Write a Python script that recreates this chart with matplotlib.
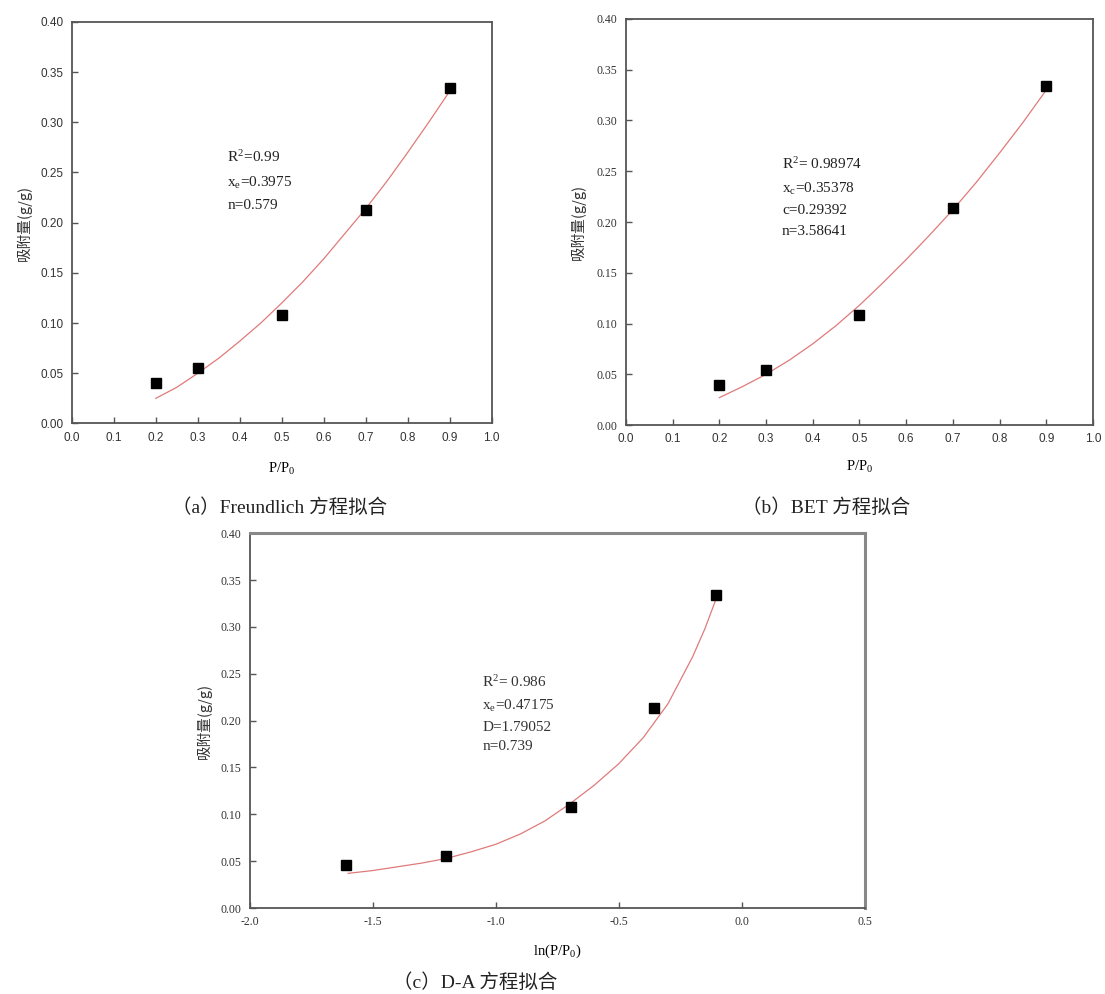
import matplotlib
matplotlib.use("Agg")
import matplotlib.pyplot as plt

# measured points (P/P0 and adsorbed amount, g/g)
p_rel = [0.2, 0.3, 0.5, 0.7, 0.9]
q_a = [0.040, 0.055, 0.108, 0.213, 0.334]
q_b = [0.039, 0.054, 0.108, 0.214, 0.334]
ln_p = [-1.609, -1.204, -0.693, -0.357, -0.105]
q_c = [0.046, 0.055, 0.108, 0.214, 0.334]

# fitted curves
fit_x_ab = [0.20, 0.25, 0.30, 0.35, 0.40, 0.45, 0.50, 0.55, 0.60, 0.65, 0.70, 0.75, 0.80, 0.85, 0.90]
fit_a = [0.025, 0.036, 0.050, 0.065, 0.082, 0.100, 0.120, 0.141, 0.164, 0.189, 0.214, 0.241, 0.270, 0.300, 0.331]
fit_b = [0.027, 0.038, 0.050, 0.064, 0.080, 0.098, 0.118, 0.140, 0.163, 0.187, 0.212, 0.239, 0.268, 0.298, 0.330]
fit_x_c = [-1.60, -1.50, -1.40, -1.30, -1.20, -1.10, -1.00, -0.90, -0.80, -0.70, -0.60, -0.50, -0.40, -0.30, -0.20, -0.15, -0.10]
fit_c = [0.037, 0.040, 0.044, 0.048, 0.053, 0.060, 0.068, 0.079, 0.093, 0.111, 0.131, 0.154, 0.182, 0.218, 0.268, 0.298, 0.333]

SERIF = ["Liberation Serif", "Noto Sans CJK SC"]
SANS = ["Liberation Sans", "DejaVu Sans"]
CJK = ["Noto Sans CJK SC", "Liberation Serif"]
LINE = "#e07a7a"

plt.rcParams["mathtext.fontset"] = "stix"

fig = plt.figure(figsize=(11.05, 9.94), dpi=100)
ax_a = fig.add_axes([0.065, 0.574, 0.380, 0.404])
ax_b = fig.add_axes([0.5665, 0.5724, 0.4226, 0.4085])
ax_c = fig.add_axes([0.226, 0.0865, 0.5566, 0.377])


def style(ax, xlim, ylim, xticks, xfam, yfam):
    ax.set_xlim(*xlim)
    ax.set_ylim(*ylim)
    ax.set_xticks(xticks)
    ax.set_yticks([0.0, 0.05, 0.10, 0.15, 0.20, 0.25, 0.30, 0.35, 0.40])
    ax.set_yticklabels(["0.00", "0.05", "0.10", "0.15", "0.20", "0.25", "0.30", "0.35", "0.40"])
    ax.set_xticklabels([f"{t:.1f}" for t in xticks])
    ax.tick_params(direction="in", length=4, width=1, colors="#555555",
                   labelcolor="#333333", labelsize=8.5, top=False, right=False, pad=6)
    for lab in ax.get_xticklabels():
        lab.set_family(xfam)
    for lab in ax.get_yticklabels():
        lab.set_family(yfam)
    for s in ax.spines.values():
        s.set_color("#555555")
        s.set_linewidth(1.3)


# (a) Freundlich
ax_a.plot(fit_x_ab, fit_a, color=LINE, lw=0.9)
ax_a.plot(p_rel, q_a, "s", color="black", ms=6.5)
style(ax_a, (0, 1.0), (0, 0.40), [i / 10 for i in range(11)], SANS, SANS)
ax_a.text(0.37, 0.685, "R$^\\mathregular{2}$=0.99\nx$_\\mathregular{e}$=0.3975\nn=0.579",
          transform=ax_a.transAxes, family=SERIF, fontsize=11, va="top",
          linespacing=1.8, color="#222222")
ax_a.set_xlabel("P/P$_\\mathregular{0}$", family=SERIF, fontsize=10.5, labelpad=12)
ax_a.set_ylabel("吸附量(g/g)", family=CJK, fontsize=10.5, labelpad=6, color="#333333")

# (b) BET
ax_b.plot(fit_x_ab, fit_b, color=LINE, lw=0.9)
ax_b.plot(p_rel, q_b, "s", color="black", ms=6.5)
style(ax_b, (0, 1.0), (0, 0.40), [i / 10 for i in range(11)], SANS, SERIF)
ax_b.text(0.334, 0.665, "R$^\\mathregular{2}$= 0.98974\nx$_\\mathregular{c}$=0.35378\nc=0.29392\nn=3.58641",
          transform=ax_b.transAxes, family=SERIF, fontsize=11, va="top",
          linespacing=1.75, color="#222222")
ax_b.set_xlabel("P/P$_\\mathregular{0}$", family=SERIF, fontsize=10.5, labelpad=10)
ax_b.set_ylabel("吸附量(g/g)", family=CJK, fontsize=10.5, labelpad=8, color="#333333")

# (c) D-A
ax_c.plot(fit_x_c, fit_c, color=LINE, lw=0.9)
ax_c.plot(ln_p, q_c, "s", color="black", ms=6.5)
style(ax_c, (-2.0, 0.5), (0, 0.40), [-2.0, -1.5, -1.0, -0.5, 0.0, 0.5], SERIF, SERIF)
for side in ("top", "right"):
    ax_c.spines[side].set_color("#888888")
    ax_c.spines[side].set_linewidth(2.2)
ax_c.text(0.378, 0.625, "R$^\\mathregular{2}$= 0.986\nx$_\\mathregular{e}$=0.47175\nD=1.79052\nn=0.739",
          transform=ax_c.transAxes, family=SERIF, fontsize=11, va="top",
          linespacing=1.65, color="#333333")
ax_c.set_xlabel("ln(P/P$_\\mathregular{0}$)", family=SERIF, fontsize=10.5, labelpad=10)
ax_c.set_ylabel("吸附量(g/g)", family=CJK, fontsize=10.5, labelpad=6, color="#333333")

# captions
fig.text(0.253, 0.489, "（a）Freundlich 方程拟合", ha="center", va="center",
         family=SERIF, fontsize=14, color="#222222")
fig.text(0.748, 0.489, "（b）BET 方程拟合", ha="center", va="center",
         family=SERIF, fontsize=14, color="#222222")
fig.text(0.430, 0.011, "（c）D-A 方程拟合", ha="center", va="center",
         family=SERIF, fontsize=14, color="#222222")

fig.savefig("out.png", dpi=100, facecolor="white")
